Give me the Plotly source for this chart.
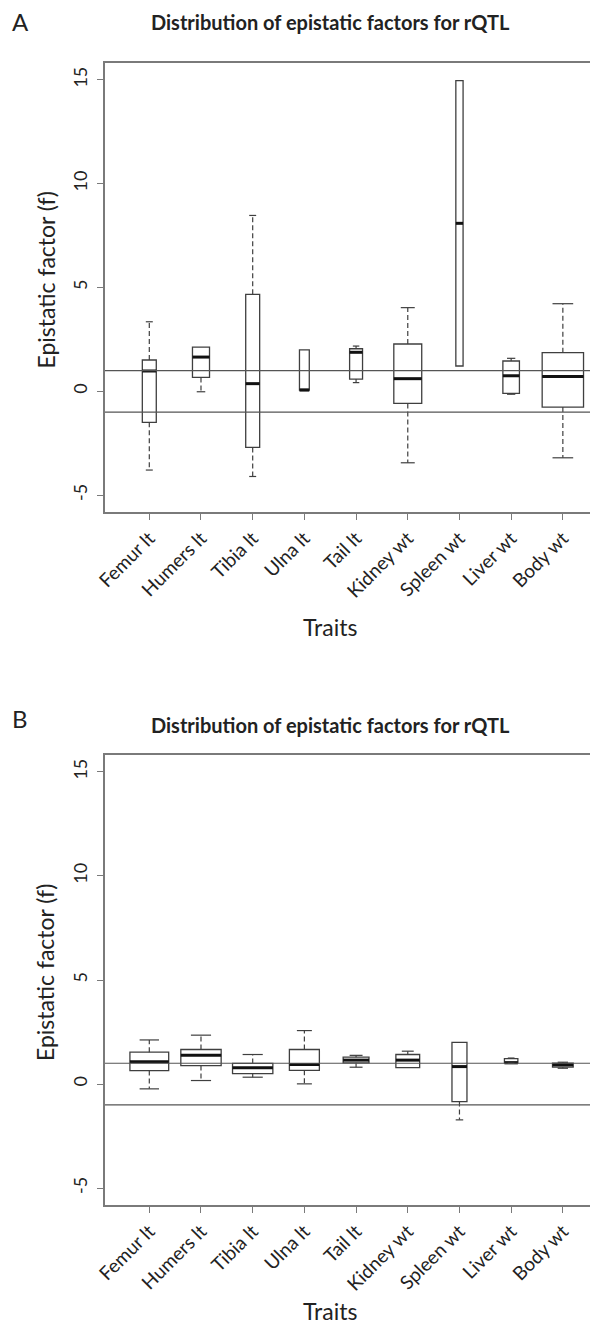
import plotly.graph_objects as go

# ---------------- data ----------------
traits = ["Femur lt", "Humers lt", "Tibia lt", "Ulna lt", "Tail lt",
          "Kidney wt", "Spleen wt", "Liver wt", "Body wt"]

# Panel A: lower whisker, Q1, median, Q3, upper whisker
a_low = [-3.79, -0.02, -4.10, 0.06, 0.42, -3.44, 1.22, -0.14, -3.20]
a_q1 = [-1.49, 0.67, -2.70, 0.06, 0.59, -0.58, 1.22, -0.10, -0.76]
a_med = [0.98, 1.65, 0.37, 0.06, 1.88, 0.61, 8.09, 0.75, 0.72]
a_q3 = [1.51, 2.13, 4.67, 2.00, 2.05, 2.28, 14.96, 1.46, 1.86]
a_high = [3.35, 2.13, 8.47, 2.00, 2.18, 4.03, 14.96, 1.59, 4.22]

# Panel B
b_low = [-0.23, 0.17, 0.33, 0.01, 0.81, 0.79, -1.72, 1.00, 0.76]
b_q1 = [0.65, 0.89, 0.50, 0.66, 1.02, 0.79, -0.84, 1.02, 0.81]
b_med = [1.07, 1.39, 0.79, 0.94, 1.15, 1.15, 0.84, 1.02, 0.92]
b_q3 = [1.53, 1.66, 0.99, 1.66, 1.29, 1.42, 2.00, 1.22, 1.00]
b_high = [2.12, 2.35, 1.42, 2.57, 1.38, 1.58, 2.00, 1.25, 1.05]

# box widths (varwidth, category units)
a_widths = [0.27, 0.33, 0.27, 0.19, 0.25, 0.54, 0.14, 0.32, 0.80]
b_widths = [0.75, 0.78, 0.78, 0.58, 0.50, 0.46, 0.29, 0.26, 0.40]

ref_lines = [1, -1]
y_ticks = [-5, 0, 5, 10, 15]
title_text = "Distribution of epistatic factors for rQTL"

# ---------------- layout constants ----------------
OFF = 8                     # page body margin offset
W, H = 598 - OFF, 1328 - OFF
# desired screen positions (px)
LEFT, RIGHT = 105, 598
topA, botA = 63, 512
topB, botB = 755, 1205
ML, MR, MT, MB = LEFT - OFF, 0, topA - OFF, H - (botB - OFF)
PW, PH = W - ML - MR, H - MT - MB


def px_x(p):
    return (p - LEFT) / PW


def px_y(p):
    return (botB - p) / PH


FONT = "Lato, 'Open Sans', sans-serif"
TXT = "#222222"
AX = "#7a7a7a"
BOXC = "#3f3f3f"

fig = go.Figure()


def add_panel(low, q1, med, q3, high, widths, xa, ya):
    wx, wy, cx, cy = [], [], [], []
    for i in range(len(traits)):
        xc = i + 1
        w = widths[i]
        fig.add_trace(go.Box(
            x=[xc], q1=[q1[i]], median=[med[i]], q3=[q3[i]],
            lowerfence=[q1[i]], upperfence=[q3[i]],
            width=w, fillcolor="rgba(0,0,0,0)",
            line=dict(color=BOXC, width=1.3), whiskerwidth=0,
            boxpoints=False, xaxis=xa, yaxis=ya,
            showlegend=False, hoverinfo="skip"))
        fig.add_trace(go.Scatter(
            x=[xc - w / 2, xc + w / 2], y=[med[i], med[i]], mode="lines",
            line=dict(color="#111111", width=3), xaxis=xa, yaxis=ya,
            showlegend=False, hoverinfo="skip"))
        if high[i] > q3[i]:
            wx += [xc, xc, None]; wy += [q3[i], high[i], None]
            cx += [xc - w / 4, xc + w / 4, None]; cy += [high[i], high[i], None]
        if low[i] < q1[i]:
            wx += [xc, xc, None]; wy += [q1[i], low[i], None]
            cx += [xc - w / 4, xc + w / 4, None]; cy += [low[i], low[i], None]
    fig.add_trace(go.Scatter(x=wx, y=wy, mode="lines",
                             line=dict(color=BOXC, width=1.2, dash="5px,3px"),
                             xaxis=xa, yaxis=ya, showlegend=False, hoverinfo="skip"))
    fig.add_trace(go.Scatter(x=cx, y=cy, mode="lines",
                             line=dict(color=BOXC, width=1.2),
                             xaxis=xa, yaxis=ya, showlegend=False, hoverinfo="skip"))


add_panel(a_low, a_q1, a_med, a_q3, a_high, a_widths, "x", "y")
add_panel(b_low, b_q1, b_med, b_q3, b_high, b_widths, "x2", "y2")

# reference lines
for xa_name, ya_name in [("x", "y"), ("x2", "y2")]:
    for v in ref_lines:
        fig.add_shape(type="line", xref=xa_name + " domain", yref=ya_name,
                      x0=0, x1=1, y0=v, y1=v,
                      line=dict(color="#555555", width=1.2))

xaxis_common = dict(
    range=[0.143, 9.68], tickmode="array", tickvals=list(range(1, len(traits) + 1)),
    ticktext=traits, tickangle=-45, ticks="outside", ticklen=6, tickcolor=AX,
    tickwidth=1.3, showline=True, linecolor=AX, linewidth=1.6, mirror=True,
    showgrid=False, zeroline=False,
    tickfont=dict(family=FONT, size=19, color=TXT))
yaxis_common = dict(
    range=[-5.81, 15.81], tickmode="array", tickvals=y_ticks,
    ticktext=[str(v) for v in y_ticks], tickangle=-90, ticks="outside",
    ticklen=6, tickcolor=AX, tickwidth=1.3, showline=True, linecolor=AX,
    linewidth=1.6, showgrid=False, zeroline=False, ticklabelstandoff=3,
    tickfont=dict(family=FONT, size=18, color=TXT))

fig.update_layout(
    width=W, height=H, margin=dict(l=ML, r=MR, t=MT, b=MB),
    paper_bgcolor="white", plot_bgcolor="white",
    xaxis=dict(domain=[0, 1], anchor="y", **xaxis_common),
    yaxis=dict(domain=[px_y(botA), px_y(topA)], anchor="x", **yaxis_common),
    xaxis2=dict(domain=[0, 1], anchor="y2", **xaxis_common),
    yaxis2=dict(domain=[px_y(botB), px_y(topB)], anchor="x2", **yaxis_common),
    showlegend=False,
)

ann = []
for letter, ly, ty, top, bot, tr in [("A", 22, 22, topA, botA, 627),
                                     ("B", 718, 725, topB, botB, 1311)]:
    ann.append(dict(text=letter, x=px_x(20), y=px_y(ly), xref="paper", yref="paper",
                    showarrow=False, xanchor="center", yanchor="middle",
                    font=dict(family=FONT, size=24, color=TXT)))
    ann.append(dict(text="<b>" + title_text + "</b>", x=px_x(330), y=px_y(ty),
                    xref="paper", yref="paper", showarrow=False,
                    xanchor="center", yanchor="middle",
                    font=dict(family=FONT, size=20, color=TXT)))
    ann.append(dict(text="Epistatic factor (f)", x=px_x(45), y=px_y((top + bot) / 2 - 7),
                    xref="paper", yref="paper", showarrow=False, textangle=-90,
                    xanchor="center", yanchor="middle",
                    font=dict(family=FONT, size=23, color=TXT)))
    ann.append(dict(text="Traits", x=px_x(330), y=px_y(tr),
                    xref="paper", yref="paper", showarrow=False,
                    xanchor="center", yanchor="middle",
                    font=dict(family=FONT, size=23, color=TXT)))
fig.update_layout(annotations=ann)

fig.write_html("out.html")
